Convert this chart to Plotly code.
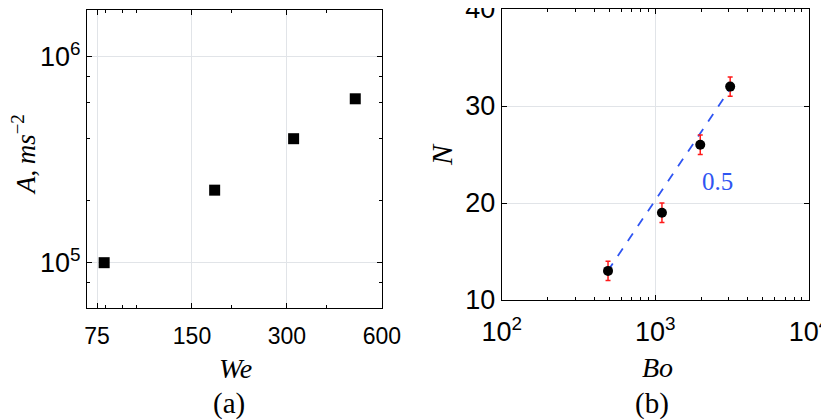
import math
import plotly.graph_objects as go

# panel (a): acceleration amplitude vs Weber number
we = [79, 177, 315, 494]
accel = [1.0e5, 2.25e5, 4.0e5, 6.25e5]

# panel (b): N vs Bond number, with error bars
bo = [492, 1104, 1960, 3069]
n_val = [13, 19, 26, 32]
n_err = [1, 1, 1, 1]

# dashed fit line endpoints and its label
fit_bo = [490, 3200]
fit_n = [13.0, 32.2]
fit_label = "0.5"

we_ticks = [75, 150, 300, 600]
a_ticks = [1e5, 1e6]
a_ticktext = ["10<sup>5</sup>", "10<sup>6</sup>"]
bo_ticks = [100, 1000, 10000]
bo_ticktext = ["10<sup>2</sup>", "10<sup>3</sup>", "10<sup>4</sup>"]
n_ticks = [10, 20, 30, 40]

# the page body has an 8px margin, so the figure is 8px smaller and
# every reference pixel position is shifted by 8
OFF = 8
W, H = 829 - OFF, 420 - OFF


def fx(px):
    return (px - OFF) / W


def fy(py):
    return 1 - (py - OFF) / H


grid = "#e1e4e8"
sans = "Arial, Liberation Sans, sans-serif"
serif = "Times New Roman, Liberation Serif, serif"

fig = go.Figure()

fig.add_trace(go.Scatter(
    x=we, y=accel, mode="markers", xaxis="x", yaxis="y",
    marker=dict(symbol="square", size=11, color="black"),
    showlegend=False,
))

fig.add_trace(go.Scatter(
    x=fit_bo, y=fit_n, mode="lines", xaxis="x2", yaxis="y2",
    line=dict(color="#2f55f2", width=1.8, dash="dash"),
    showlegend=False,
))

fig.add_trace(go.Scatter(
    x=bo, y=n_val, mode="markers", xaxis="x2", yaxis="y2",
    marker=dict(symbol="circle", size=10, color="black"),
    error_y=dict(type="data", array=n_err, color="#ff1a1a", thickness=1.5, width=2.5),
    showlegend=False,
))

axis_common = dict(
    showline=True, linecolor="black", linewidth=1, mirror="allticks",
    ticks="inside", ticklen=5, tickcolor="black", tickwidth=1,
    showgrid=True, gridcolor=grid, gridwidth=1, zeroline=False,
    automargin=False, ticklabeloverflow="allow",
)


def minor(vals):
    return dict(ticks="inside", ticklen=3, tickcolor="black", tickvals=vals, showgrid=False)


fig.update_layout(
    width=W, height=H,
    margin=dict(l=0, r=0, t=0, b=0),
    paper_bgcolor="white", plot_bgcolor="white",
    xaxis=dict(
        axis_common, type="log", domain=[fx(87), fx(382)], anchor="y",
        range=[math.log10(69.7), math.log10(600.5)],
        tickmode="array", tickvals=we_ticks, ticktext=[str(t) for t in we_ticks],
        tickfont=dict(family=sans, size=23, color="black"), ticklabelstandoff=7,
        minor=minor([80, 90, 100, 200, 400]),
    ),
    yaxis=dict(
        axis_common, type="log", domain=[fy(308), fy(10)], anchor="x",
        range=[4.78, 6.227],
        tickmode="array", tickvals=a_ticks, ticktext=a_ticktext,
        tickfont=dict(family=sans, size=27, color="black"),
        minor=minor([8e4, 2e5, 4e5, 6e5, 8e5]),
    ),
    xaxis2=dict(
        axis_common, type="log", domain=[fx(501.7), fx(809)], anchor="y2",
        range=[1.9999, 4.0001],
        tickmode="array", tickvals=bo_ticks, ticktext=bo_ticktext,
        tickfont=dict(family=sans, size=27, color="black"), ticklabelstandoff=8,
        minor=minor([k * 10 ** e for e in (2, 3) for k in range(2, 10)]),
    ),
    yaxis2=dict(
        axis_common, domain=[fy(300), fy(9)], anchor="x2",
        range=[9.999, 40.001], tickmode="array", tickvals=n_ticks,
        tickfont=dict(family=sans, size=27, color="black"),
    ),
)

annos = [
    dict(text="<i>A</i>,\u2009<i>ms</i><sup>\u22122</sup>", x=24, y=155, textangle=-90, size=27),
    dict(text="<i>We</i>", x=235, y=368, size=28),
    dict(text="(a)", x=229, y=403, size=29),
    dict(text="<i>N</i>", x=442, y=155, textangle=-90, size=30),
    dict(text="<i>Bo</i>", x=657, y=367, size=28),
    dict(text="(b)", x=652, y=403, size=29),
]
for a in annos:
    fig.add_annotation(
        text=a["text"], x=fx(a["x"]), y=fy(a["y"]), xref="paper", yref="paper",
        xanchor="center", yanchor="middle", showarrow=False,
        textangle=a.get("textangle", 0),
        font=dict(family=serif, size=a["size"], color="black"),
    )

fig.add_annotation(
    text=fit_label, x=math.log10(2540), y=22.2, xref="x2", yref="y2",
    xanchor="center", yanchor="middle", showarrow=False,
    font=dict(family=serif, size=25, color="#2f55f2"),
)

fig.write_html("out.html")
